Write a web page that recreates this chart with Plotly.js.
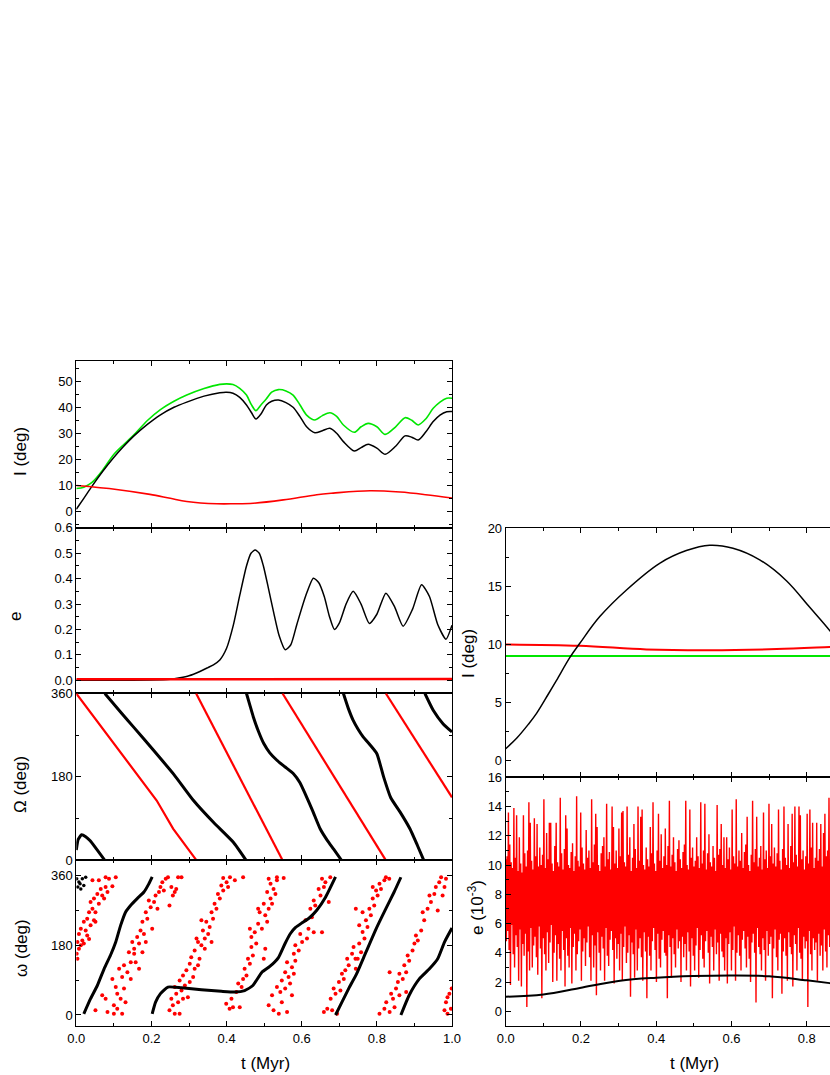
<!DOCTYPE html>
<html>
<head>
<meta charset="utf-8">
<script src="https://cdn.plot.ly/plotly-3.0.1.min.js"></script>
<style>
  html, body { margin: 0; padding: 0; overflow: hidden; background: #fff; }
  #plot { width: 890px; height: 1075px; }
</style>
</head>
<body>
<div id="plot"></div>
<script>
// ---------- left column : t in Myr ----------
var tI = [0, 0.02, 0.041, 0.07, 0.098, 0.125, 0.152, 0.19, 0.223, 0.26, 0.294, 0.34, 0.382, 0.4, 0.417, 0.435, 0.453, 0.466, 0.478, 0.492, 0.506, 0.52, 0.538, 0.558, 0.577, 0.595, 0.613, 0.635, 0.655, 0.675, 0.693, 0.711, 0.74, 0.758, 0.777, 0.8, 0.822, 0.85, 0.875, 0.893, 0.91, 0.93, 0.95, 0.968, 0.986, 1.0];
var iBlack = [0.8, 5, 9.5, 15.3, 20.4, 24.8, 28.8, 33.5, 37, 40, 42, 44.3, 45.6, 45.8, 45.4, 43.8, 40.9, 38, 35.5, 37.5, 40.9, 42.3, 42.8, 41.8, 40, 36.5, 32.5, 30.2, 31, 31.9, 30, 26.8, 23.2, 24.5, 25.8, 24.3, 21.9, 25, 29, 28.5, 27.4, 30.5, 34.5, 37, 38.3, 38.4];
var iGreen = [8.8, 9.3, 11, 15.8, 21.6, 25.5, 29.2, 35, 39, 42.3, 44.7, 47.2, 48.8, 49, 48.8, 47.3, 44.7, 41, 38.7, 41, 43.3, 45.8, 46.8, 46.3, 44.7, 41, 37, 35.1, 36.8, 37.9, 36.5, 33.2, 30.4, 32.5, 33.8, 32.5, 29.6, 32.5, 36, 35, 33.2, 35.5, 39.6, 42, 43.5, 43.5];
var tIRed = [0, 0.107, 0.196, 0.25, 0.294, 0.374, 0.42, 0.471, 0.551, 0.64, 0.684, 0.782, 0.862, 0.93, 1.0];
var iRed = [9.9, 8.4, 6.5, 5, 3.8, 2.9, 2.9, 3.1, 4.4, 6.4, 7.0, 7.9, 7.4, 6.4, 5.1];

var tE = [0, 0.1, 0.2, 0.25, 0.276, 0.3, 0.329, 0.35, 0.365, 0.382, 0.4, 0.418, 0.435, 0.453, 0.465, 0.476, 0.487, 0.498, 0.511, 0.525, 0.54, 0.556, 0.571, 0.587, 0.61, 0.631, 0.645, 0.66, 0.674, 0.687, 0.7, 0.718, 0.737, 0.758, 0.78, 0.8, 0.824, 0.847, 0.87, 0.895, 0.919, 0.94, 0.962, 0.984, 1.0];
var eBlack = [0, 0, 0.001, 0.004, 0.01, 0.018, 0.035, 0.05, 0.061, 0.08, 0.126, 0.217, 0.334, 0.45, 0.5, 0.513, 0.5, 0.45, 0.365, 0.269, 0.175, 0.12, 0.14, 0.22, 0.33, 0.402, 0.385, 0.33, 0.25, 0.2, 0.225, 0.3, 0.35, 0.3, 0.224, 0.26, 0.343, 0.29, 0.213, 0.28, 0.376, 0.33, 0.22, 0.162, 0.217];
var tERed = [0, 0.1, 0.2, 0.3, 0.4, 0.5, 0.6, 0.7, 0.8, 0.9, 1.0];
var eRed = [0.004, 0.004, 0.005, 0.004, 0.004, 0.005, 0.004, 0.005, 0.004, 0.005, 0.005];

// node longitude, null = wrap 0 -> 360
var tNodeBlack = [0, 0.005, 0.014, 0.025, 0.037, 0.054, 0.076, null,
  0.076, 0.12, 0.152, 0.205, 0.26, 0.312, 0.365, 0.418, 0.452, null,
  0.453, 0.462, 0.471, 0.485, 0.499, 0.515, 0.534, 0.555, 0.578, 0.595, 0.609, 0.63, 0.649, 0.668, 0.685, 0.706, null,
  0.711, 0.724, 0.737, 0.75, 0.764, 0.782, 0.8, 0.818, 0.837, 0.862, 0.888, 0.908, 0.925, null,
  0.928, 0.95, 0.976, 1.0];
var nodeBlack = [22, 45, 55, 51, 42, 24, 0, null,
  360, 318, 288, 238, 185, 129, 82, 39, 0, null,
  360, 335, 310, 278, 252, 232, 216, 202, 187, 168, 144, 105, 68, 43, 24, 0, null,
  360, 328, 302, 283, 266, 249, 230, 180, 135, 104, 68, 32, 0, null,
  360, 324, 295, 277];
var tNodeRed = [0, 0.107, 0.214, 0.258, 0.32, null, 0.319, 0.434, 0.506, 0.549, null, 0.549, 0.724, 0.824, null, 0.824, 1.0];
var nodeRed = [360, 245, 129, 68, 0, null, 360, 180, 68, 0, null, 360, 129, 0, null, 360, 136];

// argument of pericentre
var tPeriBlack = [0.02, 0.038, 0.056, 0.074, 0.091, 0.105, 0.118, 0.131, 0.145, 0.162, 0.18, 0.193, 0.202, null,
  0.202, 0.211, 0.224, 0.244, 0.28, 0.333, 0.386, 0.422, 0.448, 0.47, 0.494, 0.515, 0.538, 0.556, 0.57, 0.583, 0.6, 0.62, 0.64, 0.663, 0.69, null,
  0.69, 0.707, 0.725, 0.746, 0.771, 0.798, 0.824, 0.846, 0.864, null,
  0.864, 0.886, 0.913, 0.94, 0.962, 0.98, 1.0];
var periBlack = [3, 42, 76, 119, 154, 188, 231, 265, 283, 300, 317, 338, 356, null,
  3, 33, 55, 72, 70, 65, 61, 59, 63, 76, 110, 125, 148, 185, 210, 225, 237, 250, 270, 303, 356, null,
  0, 33, 68, 106, 162, 222, 274, 317, 355, null,
  0, 51, 93, 119, 145, 188, 224];
var tPeriBlackDots = [0.001, 0.007, 0.016, 0.020, 0.004, 0.012, 0.025, 0.01];
var periBlackDots = [351, 343, 351, 334, 330, 325, 355, 338];
var tPeriRed = [
  0.043, 0.06, 0.078, 0.087, 0.105, 0.096, 0.078, 0.065, 0.056, 0.069, 0.047, 0.038, 0.06, 0.043, 0.034, 0.051, 0.029, 0.047, 0.02, 0.038, 0.012, 0.025, 0.007, 0.029, 0.016, 0.003, 0.02, 0.007, 0.001, 0.003, 0.074, 0.083, 0.051, 0.034, 0.012,
  0.051, 0.069, 0.078, 0.083, 0.1, 0.096, 0.105, 0.109, 0.118, 0.127, 0.122, 0.136, 0.114, 0.127, 0.145, 0.14, 0.154, 0.149, 0.162, 0.167, 0.171, 0.18, 0.158, 0.176, 0.189, 0.185, 0.198, 0.207, 0.193, 0.211, 0.22, 0.224, 0.229, 0.238, 0.233, 0.216, 0.202, 0.176, 0.145, 0.131, 0.1, 0.109, 0.122, 0.154, 0.167, 0.185, 0.244, 0.271, 0.28, 0.253, 0.262, 0.257, 0.248, 0.266,
  0.248, 0.262, 0.275, 0.257, 0.271, 0.253, 0.284, 0.266, 0.297, 0.28, 0.262, 0.289, 0.275, 0.302, 0.284, 0.311, 0.293, 0.315, 0.302, 0.324, 0.306, 0.328, 0.315, 0.333, 0.324, 0.342, 0.351, 0.337, 0.355, 0.346, 0.364, 0.36, 0.373, 0.368, 0.382, 0.377, 0.391, 0.386, 0.4, 0.391, 0.409, 0.422, 0.444, 0.404, 0.342, 0.36, 0.32, 0.333,
  0.399, 0.408, 0.417, 0.435, 0.413, 0.426, 0.431, 0.44, 0.444, 0.453, 0.448, 0.462, 0.457, 0.47, 0.466, 0.479, 0.475, 0.484, 0.488, 0.484, 0.462, 0.466, 0.499, 0.503, 0.494, 0.503, 0.512, 0.499, 0.517, 0.508, 0.525, 0.517, 0.534, 0.512, 0.534, 0.552, 0.53, 0.521, 0.508,
  0.512, 0.525, 0.539, 0.561, 0.521, 0.543, 0.534, 0.556, 0.547, 0.569, 0.565, 0.556, 0.579, 0.574, 0.561, 0.583, 0.579, 0.592, 0.583, 0.601, 0.614, 0.596, 0.618, 0.61, 0.627, 0.623, 0.636, 0.632, 0.65, 0.645, 0.659, 0.663, 0.654, 0.676, 0.672, 0.654, 0.547, 0.574, 0.632,
  0.659, 0.668, 0.681, 0.694, 0.677, 0.69, 0.685, 0.703, 0.699, 0.712, 0.716, 0.707, 0.725, 0.721, 0.734, 0.738, 0.743, 0.744, 0.749, 0.758, 0.753, 0.767, 0.762, 0.775, 0.771, 0.784, 0.78, 0.793, 0.789, 0.802, 0.798, 0.811, 0.807, 0.82, 0.824, 0.833, 0.789, 0.762, 0.744, 0.753,
  0.807, 0.82, 0.834, 0.847, 0.825, 0.843, 0.838, 0.851, 0.856, 0.869, 0.86, 0.878, 0.873, 0.886, 0.882, 0.895, 0.9, 0.909, 0.904, 0.918, 0.926, 0.922, 0.935, 0.944, 0.94, 0.953, 0.957, 0.966, 0.971, 0.984, 0.98, 0.975, 0.962, 0.834, 0.86, 0.878,
  0.98, 0.988, 0.997, 0.984, 0.993, 0.999, 0.988];
var periRed = [
  347, 347, 355, 351, 355, 332, 330, 325, 312, 308, 300, 291, 287, 274, 265, 265, 248, 244, 240, 231, 222, 218, 209, 205, 192, 188, 184, 171, 158, 145, 300, 317, 240, 196, 180,
  12, 51, 42, 8, 3, 93, 72, 55, 42, 68, 98, 110, 119, 128, 136, 162, 171, 188, 201, 184, 218, 209, 136, 240, 248, 265, 278, 291, 295, 308, 317, 330, 342, 351, 321, 274, 222, 162, 93, 33, 25, 16, 3, 158, 119, 188, 355, 355, 355, 330, 317, 308, 282, 325,
  12, 3, 3, 25, 33, 42, 42, 55, 46, 63, 72, 76, 89, 85, 102, 98, 115, 119, 132, 128, 149, 145, 166, 180, 188, 197, 209, 218, 227, 240, 248, 265, 274, 287, 300, 312, 321, 334, 342, 353, 355, 347, 355, 330, 171, 188, 197, 244,
  29, 16, 20, 20, 42, 59, 81, 72, 93, 102, 119, 132, 145, 153, 175, 184, 213, 235, 265, 274, 222, 201, 145, 171, 222, 257, 274, 287, 300, 317, 325, 338, 347, 351, 355, 353, 312, 287, 240,
  25, 12, 3, 8, 51, 59, 72, 68, 89, 81, 98, 110, 106, 123, 136, 140, 158, 166, 180, 188, 197, 209, 222, 244, 252, 274, 282, 295, 308, 325, 330, 342, 351, 355, 291, 213, 33, 51, 213,
  8, 16, 12, 3, 42, 55, 68, 63, 85, 93, 115, 106, 128, 145, 158, 175, 145, 119, 145, 162, 184, 197, 214, 227, 244, 257, 274, 282, 300, 308, 321, 325, 338, 347, 355, 351, 330, 265, 274, 231,
  3, 16, 8, 20, 33, 42, 55, 68, 85, 93, 106, 110, 128, 140, 153, 166, 184, 192, 205, 218, 244, 265, 274, 291, 308, 312, 330, 342, 355, 351, 330, 308, 269, 110, 51, 59,
  12, 3, 16, 33, 55, 68, 46];

// ---------- right column ----------
var tIR = [0, 0.029, 0.06, 0.082, 0.113, 0.135, 0.171, 0.197, 0.25, 0.321, 0.409, 0.48, 0.542, 0.604, 0.675, 0.746, 0.808, 0.861, 0.9];
var iRBlack = [1.0, 1.9, 3.1, 4.05, 5.7, 6.9, 8.9, 10.1, 12.4, 14.7, 17.0, 18.1, 18.56, 18.3, 17.3, 15.5, 13.2, 11.2, 9.5];
var tIRRed = [0, 0.197, 0.374, 0.542, 0.72, 0.861, 0.9];
var iRRed = [10.0, 9.88, 9.57, 9.5, 9.6, 9.78, 9.83];
var tIRGreen = [0, 0.9];
var iRGreen = [9.0, 9.0];

var tER = [0, 0.1, 0.197, 0.304, 0.4, 0.498, 0.6, 0.7, 0.8, 0.861, 0.9];
var eRBlack = [1.0, 1.16, 1.6, 2.1, 2.3, 2.41, 2.45, 2.4, 2.12, 1.93, 1.8];

// red e (10^-3): successive maxima and minima of the fast oscillation
var eRedStep = 0.003625;
var eRedPeaks = [
  10.4, 10.6, 13.6, 11.4, 10.2, 9.8, 13.9, 10.5, 13.4, 9.6,
  11.9, 10.1, 9.5, 13.4, 10.8, 9.9, 11.0, 14.3, 12.9, 10.3,
  9.7, 13.2, 10.6, 12.8, 9.9, 11.2, 10.0, 10.7, 14.5, 9.8,
  12.2, 10.4, 12.9, 12.9, 10.1, 9.6, 11.3, 12.9, 10.2, 9.9,
  14.6, 10.8, 9.7, 11.1, 13.4, 12.5, 10.0, 9.8, 10.9, 11.5,
  9.6, 10.6, 14.7, 10.3, 9.9, 13.6, 11.2, 10.1, 9.7, 12.4,
  10.5, 11.0, 9.8, 14.5, 10.2, 11.4, 13.5, 12.6, 10.0, 9.6,
  10.8, 11.3, 11.9, 9.9, 14.2, 10.4, 10.9, 9.7, 14.0, 12.6,
  10.1, 11.0, 9.8, 12.5, 10.6, 13.6, 13.7, 10.2, 9.9, 14.0,
  10.7, 11.9, 9.6, 10.5, 12.8, 11.1, 9.8, 14.0, 10.3, 13.3,
  13.8, 10.0, 9.7, 11.2, 10.4, 9.9, 12.6, 10.8, 14.3, 10.1,
  9.6, 11.0, 13.5, 10.3, 12.1, 9.8, 10.6, 12.5, 10.0, 11.3,
  14.4, 9.9, 10.7, 11.9, 10.2, 9.6, 11.1, 11.7, 10.4, 9.8,
  10.9, 11.4, 14.4, 10.0, 9.7, 13.8, 10.5, 11.2, 9.9, 10.3,
  11.9, 10.6, 9.8, 14.3, 10.1, 11.0, 14.2, 9.7, 10.8, 12.1,
  10.2, 9.9, 11.3, 10.5, 9.6, 14.1, 10.7, 11.1, 12.8, 10.0,
  11.9, 9.8, 11.9, 10.4, 11.2, 9.7, 13.8, 10.6, 10.1, 14.5,
  9.9, 11.0, 10.3, 12.2, 9.8, 10.9, 11.4, 13.3, 10.0, 9.6,
  10.7, 14.4, 10.2, 11.1, 13.3, 9.9, 10.5, 11.3, 9.7, 13.6,
  10.4, 11.0, 9.8, 14.2, 10.6, 12.8, 10.1, 11.2, 9.9, 10.8,
  13.8, 10.3, 9.7, 11.1, 14.0, 10.5, 10.0, 12.8, 9.8, 11.3,
  13.5, 10.2, 14.0, 10.7, 9.9, 14.0, 13.4, 10.4, 11.0, 9.7,
  10.6, 13.5, 10.1, 13.8, 11.2, 12.9, 9.8, 10.5, 12.9, 10.3,
  11.1, 12.8, 9.9, 12.2, 13.5, 10.6, 11.0, 14.6, 10.2, 10.8];
var eRedTroughs = [
  4.8, 5.5, 4.2, 1.8, 5.9, 3.9, 3.0, 5.2, 4.4, 2.1,
  5.6, 1.7, 4.6, 3.8, 5.3, 0.3, 4.1, 2.8, 5.7, 3.0,
  4.5, 5.1, 3.7, 2.5, 5.8, 4.3, 0.9, 5.0, 3.9, 2.8,
  5.4, 3.3, 4.7, 5.9, 2.0, 4.0, 5.2, 2.1, 4.6, 3.6,
  2.8, 5.5, 4.2, 1.7, 5.0, 3.8, 3.0, 5.7, 1.9, 4.4,
  5.3, 2.8, 3.9, 4.8, 5.6, 2.1, 4.1, 5.0, 3.1, 4.7,
  5.8, 3.7, 2.1, 5.2, 3.0, 4.5, 1.1, 5.4, 4.0, 2.8,
  5.1, 4.3, 2.1, 5.7, 3.8, 3.1, 4.9, 5.5, 4.2, 1.9,
  5.0, 3.6, 4.6, 2.8, 5.3, 2.1, 4.4, 5.8, 3.3, 4.0,
  5.2, 1.0, 4.7, 3.9, 2.3, 5.6, 2.8, 4.3, 5.0, 3.7,
  2.1, 5.4, 4.1, 0.9, 5.1, 3.8, 2.8, 4.8, 5.7, 4.2,
  2.0, 5.3, 3.6, 3.0, 4.9, 5.5, 4.0, 3.8, 0.9, 5.2,
  4.4, 2.3, 5.0, 3.9, 3.0, 5.6, 4.3, 4.8, 2.0, 5.1,
  3.7, 4.6, 2.8, 5.4, 4.1, 1.7, 5.0, 3.8, 2.8, 4.5,
  5.7, 2.3, 4.2, 5.2, 3.6, 3.0, 4.8, 5.5, 4.0, 1.9,
  5.1, 4.4, 2.8, 5.6, 3.9, 4.7, 2.1, 5.3, 4.1, 3.7,
  2.8, 5.0, 1.9, 4.6, 5.4, 2.8, 4.2, 5.8, 2.1, 4.0,
  5.2, 3.8, 2.8, 4.9, 5.5, 4.3, 3.0, 5.1, 3.6, 2.0,
  4.7, 5.3, 4.0, 0.6, 5.7, 4.4, 3.9, 2.8, 5.0, 4.2,
  2.1, 5.5, 3.8, 4.6, 5.1, 0.9, 4.3, 5.6, 3.7, 2.8,
  4.9, 5.3, 1.2, 4.1, 5.0, 3.8, 2.1, 5.4, 4.4, 3.9,
  1.7, 5.2, 4.6, 2.8, 5.7, 4.0, 3.6, 2.1, 5.1, 4.3,
  4.8, 0.3, 5.5, 3.9, 2.8, 5.0, 4.2, 4.7, 2.1, 5.3,
  3.8, 4.5, 2.8, 5.6, 4.1, 3.0, 5.2, 4.4, 2.1, 4.9];

// interleave maxima / minima into one line
var tERRed = [], eRRed = [];
for (var k = 0; k < eRedPeaks.length; k++) {
  tERRed.push(k * eRedStep);
  eRRed.push(eRedPeaks[k]);
  tERRed.push((k + 0.5) * eRedStep);
  eRRed.push(eRedTroughs[k]);
}

// ---------- layout helpers (pixels -> paper) ----------
var W = 890, H = 1075;
function fx(p) { return p / W; }
function fy(p) { return 1 - p / H; }

var FONT = 'Liberation Sans, Arial, sans-serif';
var RED = '#ff0000', GREEN = '#00e600';

function axis(extra) {
  var a = {
    showline: true, linecolor: 'black', linewidth: 1, mirror: 'ticks',
    ticks: 'inside', ticklen: 5, tickwidth: 1, tickcolor: 'black',
    showgrid: false, zeroline: false,
    tickfont: { family: FONT, size: 13, color: 'black' },
    minor: { ticks: 'inside', ticklen: 3, tickwidth: 1, tickcolor: 'black', showgrid: false }
  };
  for (var key in extra) a[key] = extra[key];
  return a;
}

var leftX = [fx(76.3), fx(452)];
var rightX = [fx(505.7), fx(882)];

var data = [
  // left I
  { x: tI, y: iGreen, xaxis: 'x', yaxis: 'y', mode: 'lines', line: { color: GREEN, width: 1.6, shape: 'spline', smoothing: 0.8 } },
  { x: tI, y: iBlack, xaxis: 'x', yaxis: 'y', mode: 'lines', line: { color: 'black', width: 1.5, shape: 'spline', smoothing: 0.8 } },
  { x: tIRed, y: iRed, xaxis: 'x', yaxis: 'y', mode: 'lines', line: { color: RED, width: 1.6, shape: 'spline' } },
  // left e
  { x: tE, y: eBlack, xaxis: 'x2', yaxis: 'y2', mode: 'lines', line: { color: 'black', width: 1.5, shape: 'spline', smoothing: 0.6 } },
  { x: tERed, y: eRed, xaxis: 'x2', yaxis: 'y2', mode: 'lines', line: { color: RED, width: 2.5 } },
  // node
  { x: tNodeRed, y: nodeRed, xaxis: 'x3', yaxis: 'y3', mode: 'lines', line: { color: RED, width: 2.2 } },
  { x: tNodeBlack, y: nodeBlack, xaxis: 'x3', yaxis: 'y3', mode: 'lines', line: { color: 'black', width: 3, shape: 'spline', smoothing: 0.5 } },
  // pericentre
  { x: tPeriRed, y: periRed, xaxis: 'x4', yaxis: 'y4', mode: 'markers', marker: { color: RED, size: 4 } },
  { x: tPeriBlack, y: periBlack, xaxis: 'x4', yaxis: 'y4', mode: 'lines', line: { color: 'black', width: 3, shape: 'spline', smoothing: 0.5 } },
  { x: tPeriBlackDots, y: periBlackDots, xaxis: 'x4', yaxis: 'y4', mode: 'markers', marker: { color: 'black', size: 3.5 } },
  // right I
  { x: tIRGreen, y: iRGreen, xaxis: 'x5', yaxis: 'y5', mode: 'lines', line: { color: GREEN, width: 2 } },
  { x: tIRRed, y: iRRed, xaxis: 'x5', yaxis: 'y5', mode: 'lines', line: { color: RED, width: 2, shape: 'spline' } },
  { x: tIR, y: iRBlack, xaxis: 'x5', yaxis: 'y5', mode: 'lines', line: { color: 'black', width: 1.5, shape: 'spline' } },
  // right e
  { x: tERRed, y: eRRed, xaxis: 'x6', yaxis: 'y6', mode: 'lines', line: { color: RED, width: 1.4 } },
  { x: tER, y: eRBlack, xaxis: 'x6', yaxis: 'y6', mode: 'lines', line: { color: 'black', width: 2, shape: 'spline' } }
];

function xax(anchor, dom, labels) {
  var o = axis({ anchor: anchor, domain: dom, range: [0, 1], dtick: 0.2, tickformat: '.1f', showticklabels: labels });
  o.minor.dtick = 0.1;
  return o;
}
function yax(anchor, dom, range, extra) {
  var o = axis({ anchor: anchor, domain: dom, range: range });
  for (var key in extra) { if (key !== 'minorDtick') o[key] = extra[key]; }
  o.minor.dtick = extra.minorDtick;
  return o;
}

var layout = {
  width: W, height: H,
  margin: { l: 0, r: 0, t: 0, b: 0 },
  paper_bgcolor: 'white', plot_bgcolor: 'white',
  showlegend: false,
  font: { family: FONT, color: 'black' },
  xaxis: xax('y', leftX, false),
  xaxis2: xax('y2', leftX, false),
  xaxis3: xax('y3', leftX, false),
  xaxis4: xax('y4', leftX, true),
  xaxis5: xax('y5', rightX, false),
  xaxis6: xax('y6', rightX, true),
  yaxis: yax('x', [fy(527.7), fy(361)], [-6.3, 57.8], { dtick: 10, minorDtick: 5 }),
  yaxis2: yax('x2', [fy(693.3), fy(527.7)], [-0.051, 0.6005], { dtick: 0.1, tickformat: '.1f', minorDtick: 0.05 }),
  yaxis3: yax('x3', [fy(860.3), fy(693.3)], [0, 360.5], { tickvals: [0, 180, 360], minorDtick: 90 }),
  yaxis4: yax('x4', [fy(1026), fy(860.3)], [-28.4, 398.7], { tickvals: [0, 180, 360], minorDtick: 90 }),
  yaxis5: yax('x5', [fy(777), fy(528.3)], [-1.44, 20.02], { dtick: 5, minorDtick: 2.5 }),
  yaxis6: yax('x6', [fy(1026), fy(777)], [-1, 16.02], { dtick: 2, minorDtick: 1 }),
  annotations: []
};

// axis titles as annotations so they sit where the reference has them
var titles = [
  { text: 'I (deg)', x: 20, y: 452, rot: -90 },
  { text: 'e', x: 15, y: 617, rot: -90 },
  { text: '\u03A9 (deg)', x: 20, y: 785, rot: -90 },
  { text: '\u03C9 (deg)', x: 21, y: 948, rot: -90 },
  { text: 't (Myr)', x: 265, y: 1063, rot: 0 },
  { text: 'I (deg)', x: 468, y: 654, rot: -90 },
  { text: 'e (10<sup>-3</sup>)', x: 476, y: 908, rot: -90 },
  { text: 't (Myr)', x: 694, y: 1063, rot: 0 }
];
titles.forEach(function (t) {
  layout.annotations.push({
    text: t.text, xref: 'paper', yref: 'paper', x: fx(t.x), y: fy(t.y),
    xanchor: 'center', yanchor: 'middle', textangle: t.rot, showarrow: false,
    font: { family: FONT, size: 17, color: 'black' }
  });
});

Plotly.newPlot('plot', data, layout, { staticPlot: true, displayModeBar: false });
</script>
</body>
</html>
